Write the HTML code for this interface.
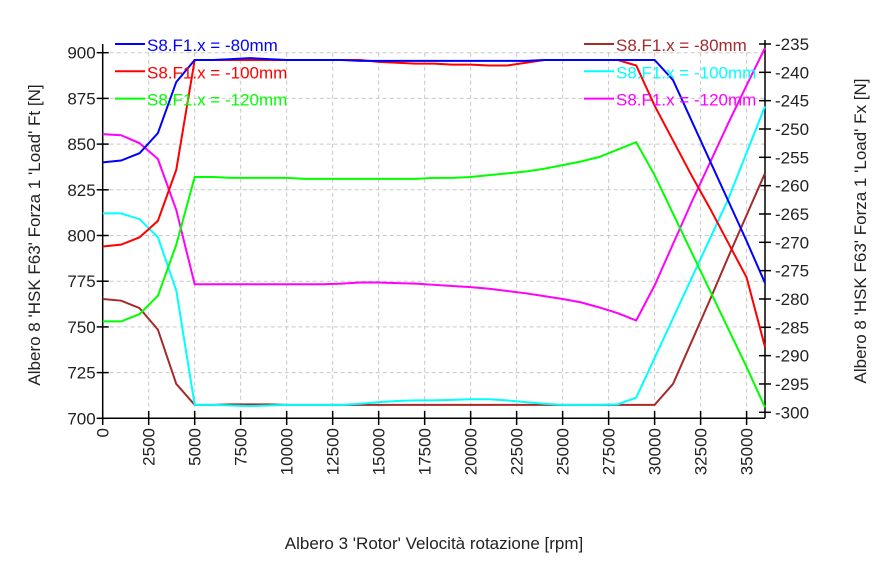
<!DOCTYPE html>
<html><head><meta charset="utf-8"><style>
html,body{margin:0;padding:0;background:#fff;}
svg{display:block;font-family:"Liberation Sans",sans-serif;}
</style></head><body>
<svg id="chart" width="885" height="561"></svg>
<script>
const xs = [0,1000,2000,3000,4000,5000,6000,7000,8000,9000,10000,11000,12000,13000,14000,15000,16000,17000,18000,19000,20000,21000,22000,23000,24000,25000,26000,27000,28000,29000,30000,31000,32000,33000,34000,35000,36000];
const blueFt = [840,841,845,856,884,896,896,896.5,897,896.5,896,896,896,896,895.5,895.5,895.5,895.5,895.5,895.5,895.5,895.5,895.5,895.5,896,896,896,896,896,896,896,885,863,841,819,797,774];
const redFt = [794,795,799,808,836,896,896,896,896,896,896,896,896,896,896,895,894.5,894,894,893.5,893.5,893,893,894.5,896,896,896,896,896,893,871,852,833,815,796,777,739];
const greenFt = [753,753,757,767,795,832,832,831.5,831.5,831.5,831.5,831,831,831,831,831,831,831,831.5,831.5,832,833,834,835,836.5,838.5,840.5,843,847,851,833,812,791,770,749,728,706];
const brownFx = [-280,-280.3,-281.6,-285.4,-295,-298.7,-298.7,-298.6,-298.6,-298.6,-298.7,-298.7,-298.7,-298.7,-298.7,-298.7,-298.7,-298.7,-298.7,-298.7,-298.7,-298.7,-298.7,-298.7,-298.7,-298.7,-298.7,-298.7,-298.7,-298.7,-298.7,-295,-287.6,-280.2,-272.6,-265.2,-257.8];
const cyanFx = [-264.9,-264.9,-265.9,-269.1,-278.5,-298.7,-298.7,-298.8,-298.9,-298.8,-298.7,-298.7,-298.7,-298.7,-298.5,-298.2,-298,-297.9,-297.9,-297.8,-297.7,-297.7,-297.9,-298.2,-298.5,-298.7,-298.7,-298.7,-298.6,-297.4,-290.4,-283.4,-276.4,-269.4,-262.4,-254.2,-246];
const magentaFx = [-250.9,-251.1,-252.5,-255.3,-264.3,-277.4,-277.4,-277.4,-277.4,-277.4,-277.4,-277.4,-277.4,-277.3,-277.1,-277.1,-277.2,-277.3,-277.5,-277.7,-277.9,-278.2,-278.6,-279,-279.5,-280,-280.6,-281.5,-282.5,-283.8,-277.6,-270.3,-263,-256,-249,-242.3,-235.7];
const xTicks = [0,2500,5000,7500,10000,12500,15000,17500,20000,22500,25000,27500,30000,32500,35000];
const leftTicks = [700,725,750,775,800,825,850,875,900];
const rightTicks = [-235,-240,-245,-250,-255,-260,-265,-270,-275,-280,-285,-290,-295,-300];

const X0=102.7, X1=765, xMax=36000;
const xS = v => X0 + v/xMax*(X1-X0);
const yL = v => 418.3 - (v-700)/200*(418.3-52.7);
const yR = v => 412.3 - (v+300)/65*(412.3-44);
const svg = document.getElementById('chart');
const NS='http://www.w3.org/2000/svg';
function mk(tag, attrs, parent){const e=document.createElementNS(NS,tag);for(const k in attrs)e.setAttribute(k,attrs[k]);(parent||svg).appendChild(e);return e;}

const grid = mk('g',{});


xTicks.forEach(t=>{ if(t>0) mk('line',{x1:xS(t),x2:xS(t),y1:52.7,y2:418.3,stroke:'#c8c8c8','stroke-dasharray':'4,3'},grid); });
leftTicks.forEach(t=>{ if(t>700) mk('line',{x1:X0,x2:X1,y1:yL(t),y2:yL(t),stroke:'#c8c8c8','stroke-dasharray':'4,3'},grid); });

const axes = mk('g',{stroke:'#000','stroke-width':1.5});


mk('line',{x1:X0,x2:X0,y1:44,y2:418.3},axes);
mk('line',{x1:X0,x2:X1,y1:418.3,y2:418.3},axes);
mk('line',{x1:X1,x2:X1,y1:40,y2:418.3},axes);

xTicks.forEach(t=>{
  mk('line',{x1:xS(t),x2:xS(t),y1:411,y2:425,stroke:'#000','stroke-width':1.5});
  const tx=mk('text',{x:0,y:0,'font-size':17,fill:'#222','text-anchor':'end',transform:`translate(${xS(t)+6},${428}) rotate(-90)`});
  
  
  tx.textContent=t;
});
leftTicks.forEach(t=>{
  mk('line',{x1:X0-6,x2:X0+6,y1:yL(t),y2:yL(t),stroke:'#000','stroke-width':1.5});
  const tx=mk('text',{x:X0-7,y:yL(t)+6,'font-size':17,fill:'#222','text-anchor':'end'});
  
  
  tx.textContent=t;
});
rightTicks.forEach(t=>{
  mk('line',{x1:X1-6,x2:X1+6,y1:yR(t),y2:yR(t),stroke:'#000','stroke-width':1.5});
  const tx=mk('text',{x:X1+10,y:yR(t)+6,'font-size':17,fill:'#222','text-anchor':'start'});
  
  
  tx.textContent=t;
});

function series(vals, scale, color, name){
  const p=mk('polyline',{points:vals.map((v,i)=>xS(xs[i])+','+scale(v)).join(' '),fill:'none',stroke:color,'stroke-width':2});
  
  
}
series(brownFx,yR,'#a52a2a','series-brown-80mm-fx');
series(cyanFx,yR,'#00ffff','series-cyan-100mm-fx');
series(magentaFx,yR,'#ff00ff','series-magenta-120mm-fx');
series(greenFt,yL,'#00ff00','series-green-120mm-ft');
series(redFt,yL,'#ff0000','series-red-100mm-ft');
series(blueFt,yL,'#0000ff','series-blue-80mm-ft');

const legL=[['S8.F1.x = -80mm','#0000ff'],['S8.F1.x = -100mm','#ff0000'],['S8.F1.x = -120mm','#00ff00']];
const legR=[['S8.F1.x = -80mm','#a52a2a'],['S8.F1.x = -100mm','#00ffff'],['S8.F1.x = -120mm','#ff00ff']];
function legend(items,x,name){
  items.forEach((it,i)=>{
    const y=44+i*27.3;
    const g=mk('g',{});
    
    
    mk('line',{x1:x,x2:x+30,y1:y,y2:y,stroke:it[1],'stroke-width':2},g);
    const t=mk('text',{x:x+32,y:y+7,'font-size':17,fill:it[1]},g);
    t.textContent=it[0];
  });
}
legend(legL,115,'left-legend');
legend(legR,584,'right-legend');

const lt=mk('text',{x:0,y:0,'font-size':17,fill:'#222','text-anchor':'middle',transform:'translate(40,235) rotate(-90)'});


lt.textContent="Albero 8 'HSK F63' Forza 1 'Load' Ft [N]";
const rt=mk('text',{x:0,y:0,'font-size':17,fill:'#222','text-anchor':'middle',transform:'translate(866,231) rotate(-90)'});


rt.textContent="Albero 8 'HSK F63' Forza 1 'Load' Fx [N]";
const xt=mk('text',{x:434,y:549,'font-size':17,fill:'#222','text-anchor':'middle'});


xt.textContent="Albero 3 'Rotor' Velocità rotazione [rpm]";
</script>
</body></html>
